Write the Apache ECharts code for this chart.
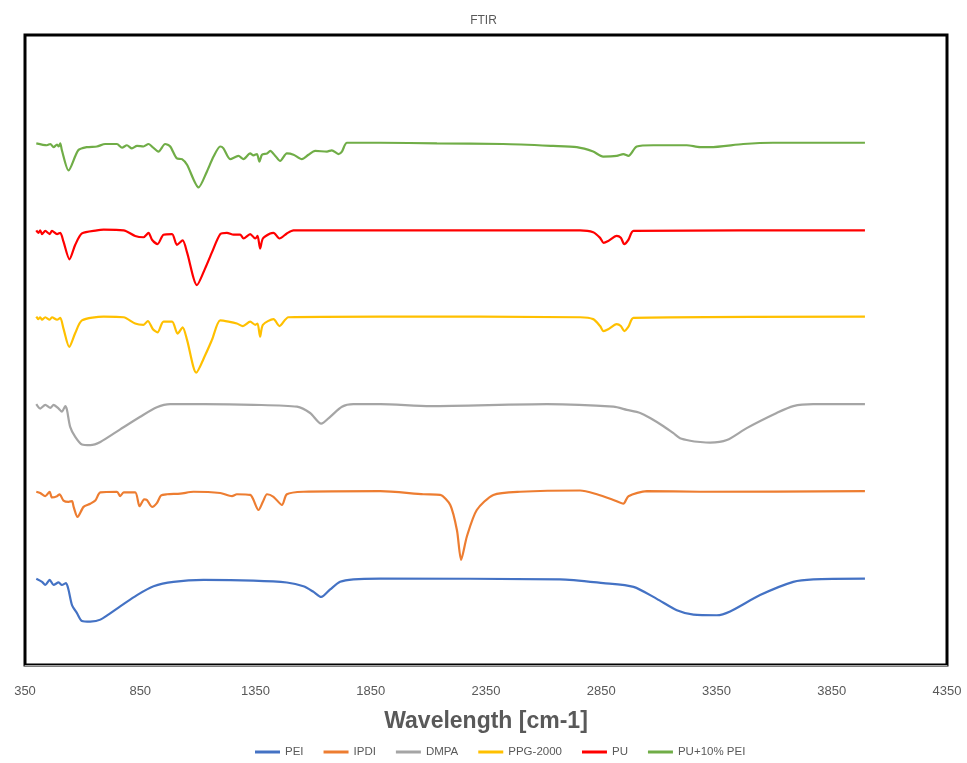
<!DOCTYPE html>
<html>
<head>
<meta charset="utf-8">
<script src="https://cdn.jsdelivr.net/npm/echarts@6/dist/echarts.min.js"></script>
<style>
html,body{margin:0;padding:0;background:#fff;}
#chart{width:967px;height:763px;}
</style>
</head>
<body>
<div id="chart"></div>
<script>
// Wavenumber ticks
const xTicks = [350, 850, 1350, 1850, 2350, 2850, 3350, 3850, 4350];
const seriesNames = ['PEI', 'IPDI', 'DMPA', 'PPG-2000', 'PU', 'PU+10% PEI'];

// [wavenumber, offset transmittance value]
const pei = [[399,13.7],[424,13.2],[438,12.7],[457,13.5],[474,12.7],[496,13.1],[510,12.7],[528,13.0],[539,11.9],[554,9.5],[576,8.2],[597,7.0],[633,6.9],[677,7.2],[763,9.3],[836,11.1],[908,12.5],[994,13.2],[1125,13.5],[1341,13.4],[1486,13.1],[1558,12.5],[1602,11.6],[1635,10.8],[1674,12.0],[1717,13.2],[1775,13.6],[1891,13.7],[2671,13.6],[2859,13.0],[2990,12.4],[3091,10.5],[3178,8.7],[3250,8.0],[3351,7.9],[3409,8.5],[3539,11.1],[3683,13.2],[3770,13.6],[3994,13.7]];

const ipdi = [[399,27.5],[416,27.3],[438,26.8],[457,27.5],[467,26.6],[489,26.8],[500,27.1],[517,26.1],[539,25.9],[554,26.0],[561,25.1],[578,23.5],[604,25.1],[633,25.6],[655,26.1],[677,27.4],[749,27.5],[763,26.8],[778,27.4],[828,27.4],[847,25.2],[867,26.3],[879,26.2],[901,25.1],[922,25.7],[940,26.9],[966,27.1],[1024,27.2],[1081,27.5],[1197,27.3],[1248,26.8],[1269,27.1],[1327,27.0],[1363,24.6],[1382,25.9],[1400,27.1],[1428,26.7],[1465,25.4],[1486,27.1],[1558,27.5],[1891,27.6],[2079,27.1],[2151,27.0],[2195,25.4],[2224,21.4],[2242,16.7],[2267,20.4],[2310,24.6],[2382,27.0],[2498,27.5],[2758,27.7],[2831,27.1],[2903,26.2],[2946,25.6],[2968,26.8],[3048,27.6],[3279,27.5],[3994,27.6]];

const dmpa = [[399,41.4],[416,40.7],[438,41.3],[460,40.8],[474,41.3],[496,40.7],[510,40.2],[525,41.1],[532,40.5],[546,37.8],[568,36.2],[597,35.0],[633,34.9],[677,35.4],[763,37.4],[850,39.4],[922,40.9],[980,41.4],[1125,41.4],[1341,41.3],[1530,41.0],[1587,40.0],[1635,38.3],[1674,39.4],[1725,41.0],[1775,41.4],[1891,41.4],[2108,41.1],[2614,41.4],[2903,41.0],[2961,40.5],[3019,40.0],[3062,39.2],[3120,37.9],[3163,36.8],[3192,36.0],[3236,35.6],[3279,35.4],[3322,35.3],[3395,35.7],[3481,37.6],[3611,40.0],[3683,41.1],[3770,41.4],[3994,41.4]];

const ppg = [[399,55.3],[408,54.9],[416,55.2],[424,54.8],[438,55.2],[457,54.8],[467,55.2],[489,54.8],[503,55.1],[517,53.4],[542,50.5],[568,52.7],[597,54.7],[691,55.3],[778,55.2],[828,54.2],[864,54.0],[883,54.6],[905,53.3],[925,52.8],[951,54.5],[988,54.5],[1012,52.6],[1034,53.6],[1053,51.6],[1093,46.4],[1132,49.2],[1161,51.6],[1197,54.7],[1233,54.5],[1269,54.2],[1295,53.8],[1327,54.5],[1349,54.0],[1359,54.2],[1370,52.1],[1382,54.0],[1428,54.9],[1454,53.8],[1493,55.2],[1891,55.3],[2758,55.2],[2815,54.9],[2845,53.8],[2860,53.0],[2880,53.3],[2917,54.1],[2935,53.8],[2950,53.0],[2968,53.7],[2990,55.1],[3994,55.3]];

const pu = [[399,69.0],[408,68.6],[416,69.0],[424,68.4],[438,68.9],[457,68.4],[467,68.9],[489,68.4],[503,68.6],[517,67.2],[543,64.4],[568,66.7],[597,68.5],[662,69.0],[691,69.1],[778,69.0],[828,68.1],[864,67.9],[886,68.6],[901,67.5],[925,66.8],[951,68.3],[988,68.4],[1009,66.7],[1034,67.4],[1053,65.5],[1096,60.3],[1132,63.0],[1161,65.5],[1197,68.4],[1226,68.6],[1255,68.3],[1284,68.3],[1298,67.7],[1327,68.4],[1349,67.7],[1359,68.1],[1370,66.1],[1382,67.7],[1414,68.5],[1428,68.6],[1454,67.7],[1486,68.5],[1515,69.0],[2758,69.0],[2815,68.7],[2845,67.8],[2860,67.0],[2880,67.3],[2917,68.1],[2935,67.8],[2950,66.8],[2968,67.5],[2990,68.9],[3994,69.0]];

const pu10pei = [[399,82.8],[445,82.5],[460,82.7],[474,82.2],[489,82.6],[496,82.3],[503,82.8],[510,81.7],[539,78.5],[581,81.7],[619,82.2],[662,82.3],[698,82.7],[749,82.7],[771,82.1],[792,82.5],[814,82.0],[836,82.4],[864,82.3],[886,82.7],[901,82.3],[929,81.5],[958,82.7],[980,82.3],[1009,80.4],[1031,80.3],[1053,79.4],[1103,75.8],[1139,78.3],[1168,80.7],[1197,82.3],[1211,82.0],[1240,80.3],[1276,80.8],[1298,80.3],[1327,81.2],[1341,80.9],[1356,81.1],[1367,79.9],[1378,81.0],[1400,81.2],[1414,81.6],[1436,80.8],[1457,80.0],[1486,81.2],[1515,81.0],[1551,80.3],[1580,81.0],[1609,81.6],[1660,81.5],[1681,81.7],[1710,81.1],[1725,81.5],[1747,82.9],[1891,82.9],[2137,82.8],[2424,82.7],[2641,82.4],[2744,82.2],[2815,81.5],[2858,80.7],[2917,80.8],[2946,81.1],[2968,80.8],[3004,82.3],[3076,82.5],[3221,82.5],[3279,82.2],[3322,82.2],[3466,82.7],[3595,82.9],[3994,82.9]];

const colors = ['#4472C4', '#ED7D31', '#A5A5A5', '#FFC000', '#FF0000', '#70AD47'];
const allData = [pei, ipdi, dmpa, ppg, pu, pu10pei];

const font = "'Liberation Sans','Open Sans',sans-serif";
const chart = echarts.init(document.getElementById('chart'), null, {renderer: 'canvas'});
chart.setOption({
  animation: false,
  backgroundColor: '#fff',
  title: {
    text: 'FTIR', left: 'center', top: 10,
    textStyle: {fontFamily: font, fontSize: 12, fontWeight: 'normal', color: '#595959'}
  },
  grid: {left: 25, right: 20, top: 35, bottom: 98, show: true, borderColor: '#000', borderWidth: 3, backgroundColor: 'transparent'},
  legend: {
    bottom: 0, left: 250,
    data: seriesNames,
    icon: 'rect', itemWidth: 25, itemHeight: 3, itemGap: 20,
    textStyle: {fontFamily: font, fontSize: 11.5, color: '#595959'}
  },
  xAxis: {
    type: 'value', min: xTicks[0], max: xTicks[xTicks.length - 1], interval: 500,
    name: 'Wavelength [cm-1]', nameLocation: 'middle', nameGap: 45,
    nameTextStyle: {fontFamily: font, fontSize: 23, fontWeight: 'bold', color: '#595959'},
    axisLine: {show: true, lineStyle: {color: '#A6A6A6', width: 1}},
    axisTick: {show: false},
    splitLine: {show: false},
    axisLabel: {fontFamily: font, fontSize: 13, color: '#595959', margin: 20,
      formatter: v => String(v)}
  },
  yAxis: {
    type: 'value', min: 0, max: 100,
    show: false, splitLine: {show: false}
  },
  series: seriesNames.map((n, i) => ({
    name: n, type: 'line', data: allData[i], showSymbol: false, symbol: 'none',
    smooth: 0.25,
    lineStyle: {color: colors[i], width: 2.2},
    itemStyle: {color: colors[i]}
  }))
});
</script>
</body>
</html>
